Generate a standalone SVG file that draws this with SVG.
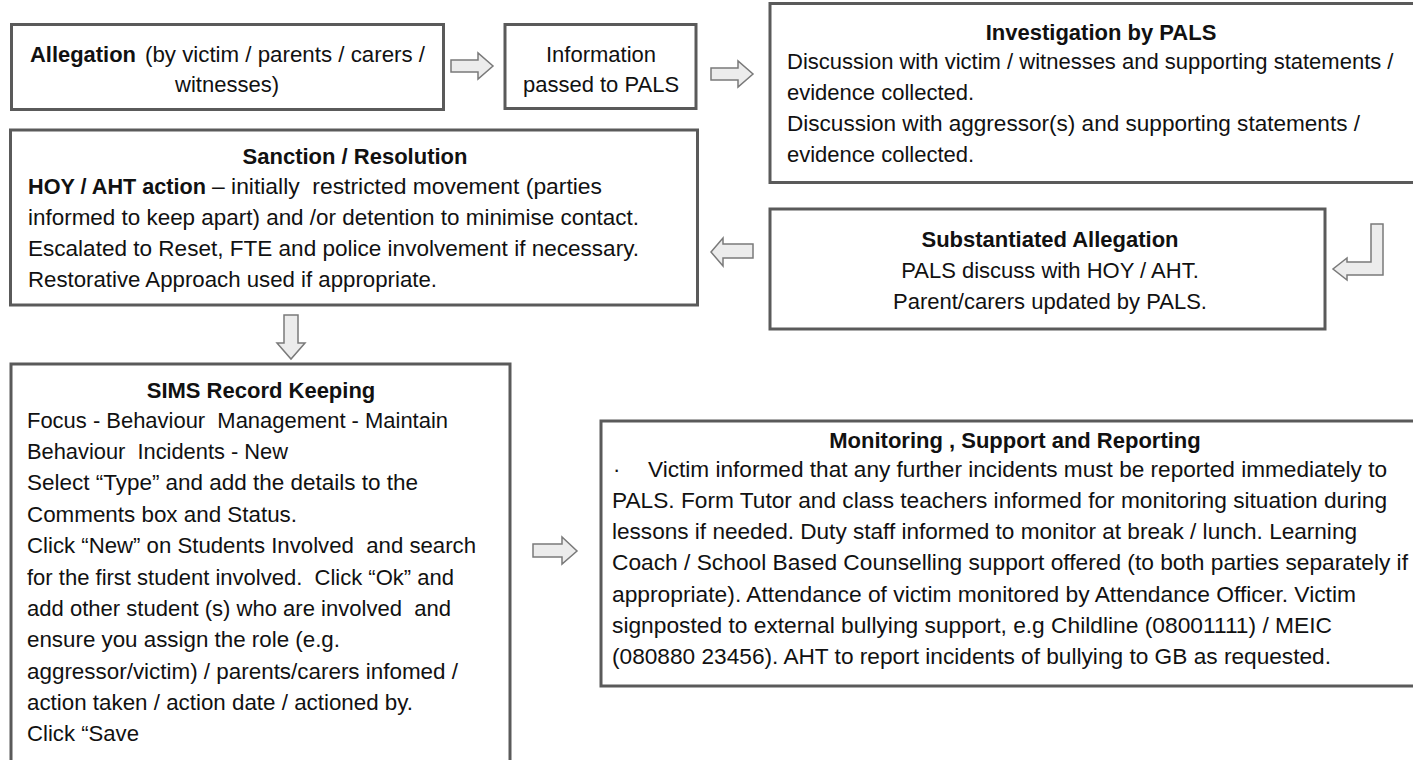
<svg xmlns="http://www.w3.org/2000/svg" width="1413" height="760" viewBox="0 0 1413 760">
<style>
.box{fill:#fff;stroke:#5a5a5a;stroke-width:3}
.arr{fill:#ececec;stroke:#7a7a7a;stroke-width:1.5;stroke-linejoin:miter}
text{font-family:"Liberation Sans",Arial,sans-serif;font-size:22px;fill:#111;white-space:pre}
.b{font-weight:bold}
.m{text-anchor:middle}
</style>
<rect width="1413" height="760" fill="#fff"/>
<g id="allegation">
<rect class="box" x="11.5" y="24.5" width="432" height="85"/>
<text class="b" x="30" y="62" textLength="106" lengthAdjust="spacingAndGlyphs">Allegation</text>
<text x="145" y="62" textLength="280" lengthAdjust="spacingAndGlyphs">(by victim / parents / carers /</text>
<text class="m" x="227" y="92">witnesses)</text>
</g>
<g id="information">
<rect class="box" x="505" y="24.5" width="191" height="84"/>
<text class="m" x="601" y="62">Information</text>
<text class="m" x="601" y="92">passed to PALS</text>
</g>
<g id="investigation">
<rect class="box" x="770" y="3.5" width="660" height="179"/>
<text class="b m" x="1101" y="40">Investigation by PALS</text>
<text x="787" y="69">Discussion with victim / witnesses and supporting statements /</text>
<text x="787" y="100">evidence collected.</text>
<text x="787" y="131" textLength="573" lengthAdjust="spacingAndGlyphs">Discussion with aggressor(s) and supporting statements /</text>
<text x="787" y="162">evidence collected.</text>
</g>
<g id="sanction">
<rect class="box" x="10.5" y="130" width="687" height="175"/>
<text class="b m" x="355" y="164">Sanction / Resolution</text>
<text class="b" x="28" y="194" textLength="178" lengthAdjust="spacingAndGlyphs">HOY / AHT action</text>
<text x="212" y="194" textLength="390" lengthAdjust="spacingAndGlyphs">– initially  restricted movement (parties</text>
<text x="28" y="225" textLength="611" lengthAdjust="spacingAndGlyphs">informed to keep apart) and /or detention to minimise contact.</text>
<text x="28" y="256" textLength="611" lengthAdjust="spacingAndGlyphs">Escalated to Reset, FTE and police involvement if necessary.</text>
<text x="28" y="287" textLength="409" lengthAdjust="spacingAndGlyphs">Restorative Approach used if appropriate.</text>
</g>
<g id="substantiated">
<rect class="box" x="770" y="209" width="555" height="120"/>
<text class="b m" x="1050" y="247">Substantiated Allegation</text>
<text class="m" x="1050" y="278">PALS discuss with HOY / AHT.</text>
<text class="m" x="1050" y="309">Parent/carers updated by PALS.</text>
</g>
<g id="sims">
<rect class="box" x="11" y="364" width="499" height="420"/>
<text class="b m" x="261" y="398">SIMS Record Keeping</text>
<text x="27" y="428" textLength="421" lengthAdjust="spacingAndGlyphs">Focus - Behaviour  Management - Maintain</text>
<text x="27" y="459" textLength="261" lengthAdjust="spacingAndGlyphs">Behaviour  Incidents - New</text>
<text x="27" y="490" textLength="391" lengthAdjust="spacingAndGlyphs">Select “Type” and add the details to the</text>
<text x="27" y="522" textLength="270" lengthAdjust="spacingAndGlyphs">Comments box and Status.</text>
<text x="27" y="553" textLength="449" lengthAdjust="spacingAndGlyphs">Click “New” on Students Involved  and search</text>
<text x="27" y="585" textLength="427" lengthAdjust="spacingAndGlyphs">for the first student involved.  Click “Ok” and</text>
<text x="27" y="616" textLength="424" lengthAdjust="spacingAndGlyphs">add other student (s) who are involved  and</text>
<text x="27" y="647" textLength="313" lengthAdjust="spacingAndGlyphs">ensure you assign the role (e.g.</text>
<text x="27" y="679" textLength="431" lengthAdjust="spacingAndGlyphs">aggressor/victim) / parents/carers infomed /</text>
<text x="27" y="710" textLength="386" lengthAdjust="spacingAndGlyphs">action taken / action date / actioned by.</text>
<text x="27" y="741" textLength="112" lengthAdjust="spacingAndGlyphs">Click “Save</text>
</g>
<g id="monitoring">
<rect class="box" x="601" y="421" width="830" height="265"/>
<text class="b m" x="1015" y="448">Monitoring , Support and Reporting</text>
<text x="613" y="477">·</text>
<text x="648" y="477" textLength="739" lengthAdjust="spacingAndGlyphs">Victim informed that any further incidents must be reported immediately to</text>
<text x="612" y="508" textLength="775" lengthAdjust="spacingAndGlyphs">PALS. Form Tutor and class teachers informed for monitoring situation during</text>
<text x="612" y="539" textLength="745" lengthAdjust="spacingAndGlyphs">lessons if needed. Duty staff informed to monitor at break / lunch. Learning</text>
<text x="612" y="570" textLength="796" lengthAdjust="spacingAndGlyphs">Coach / School Based Counselling support offered (to both parties separately if</text>
<text x="612" y="602" textLength="744" lengthAdjust="spacingAndGlyphs">appropriate). Attendance of victim monitored by Attendance Officer. Victim</text>
<text x="612" y="633" textLength="720" lengthAdjust="spacingAndGlyphs">signposted to external bullying support, e.g Childline (08001111) / MEIC</text>
<text x="612" y="664" textLength="719" lengthAdjust="spacingAndGlyphs">(080880 23456). AHT to report incidents of bullying to GB as requested.</text>
</g>
<g id="connectors">
<path class="arr" d="M451,60 H478 V53 L493,66 L478,79 V72 H451 Z"/>
<path class="arr" d="M711,68 H738 V61 L753,74 L738,87 V80 H711 Z"/>
<path class="arr" d="M1383,224 V275 H1347 V280 L1333,269 L1347,258 V262 H1371 V224 Z"/>
<path class="arr" d="M753,244 H723 V238 L711,252 L723,266 V258 H753 Z"/>
<path class="arr" d="M284,315 V343 H277 L291,359 L305,343 H298 V315 Z"/>
<path class="arr" d="M533,544 H562 V537 L577,551 L562,564 V557 H533 Z"/>
</g>
</svg>
